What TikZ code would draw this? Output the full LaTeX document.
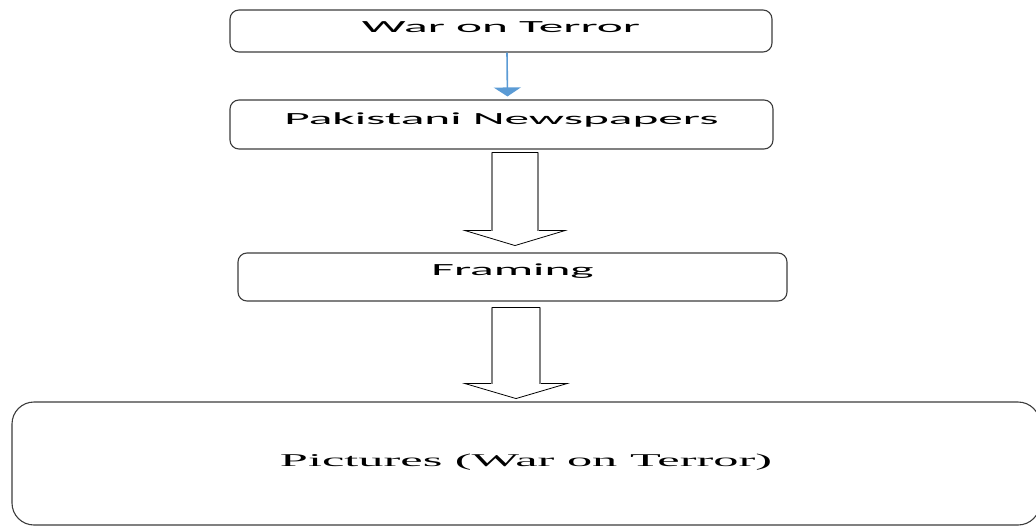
\documentclass[tikz,border=0pt]{standalone}
\usepackage{fontspec}
\usetikzlibrary{arrows.meta}
\newfontfamily\boxfont[FakeStretch=2.9]{Carlito}
\newfontfamily\picfont[FakeStretch=2.8]{Liberation Serif}
\definecolor{boxline}{RGB}{60,60,60}
\definecolor{linkblue}{RGB}{91,155,213}

\tikzset{
    stage/.style={draw=boxline, line width=1.1pt, rounded corners=9pt, inner sep=0pt,
        font=\boxfont\fontsize{17}{20}\selectfont},
    headline/.style={draw=black, line width=0.8pt, line join=miter},
    shaftline/.style={draw=gray, line width=2.4pt},
}

\begin{document}
\begin{tikzpicture}[x=1pt, y=-1pt]
    \useasboundingbox (0,0) rectangle (1036,527);
    \clip (0,0) rectangle (1036,527);

    \node[stage, minimum width=542, minimum height=42, text height=12pt, text depth=8pt] (war) at (501,31) {War on Terror};
    \node[stage, minimum width=543, minimum height=49, text height=10pt, text depth=11pt] (news) at (501.5,124.5) {Pakistani Newspapers};
    \node[stage, minimum width=549, minimum height=48, text height=10pt, text depth=14pt] (framing) at (512.5,277) {Framing};
    \node[stage, rounded corners=22pt, minimum width=1028, minimum height=123, text height=12pt, text depth=7pt,
        font=\picfont\fontsize{18}{21}\selectfont] (pictures) at (526,463.5) {Pictures (War on Terror)};

    % thin blue link
    \draw[linkblue, line width=1.6pt, -{Triangle[width=27pt, length=9pt]}, shorten >=3pt]
        ([xshift=6pt]war.south) -- ([xshift=6pt]news.north);

    % hollow block arrows
    \draw[headline] ([shift={(-9.5,3)}]news.south) coordinate (a1) -- ++(0,78) coordinate (a2)
        -- ++(-27,0) -- ++(50,15) -- ++(50,-15) -- ++(-27,0) coordinate (a3) -- ++(0,-78) coordinate (a4) -- cycle;
    \draw[shaftline] (a1) -- (a2) (a3) -- (a4);

    \draw[headline] ([shift={(-20.5,6)}]framing.south) coordinate (b1) -- ++(0,76) coordinate (b2)
        -- ++(-27,0) -- ++(51,15) -- ++(51,-15) -- ++(-27,0) coordinate (b3) -- ++(0,-76) coordinate (b4) -- cycle;
    \draw[shaftline] (b1) -- (b2) (b3) -- (b4);
\end{tikzpicture}
\end{document}
